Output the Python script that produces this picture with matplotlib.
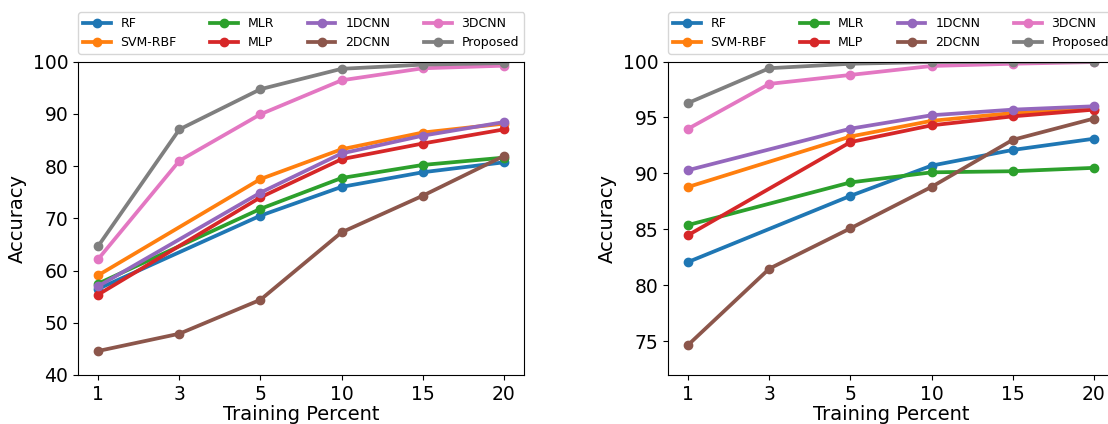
import matplotlib
matplotlib.use("Agg")
import matplotlib.pyplot as plt
import numpy as np

training_percent = ['1', '3', '5', '10', '15', '20']
methods = ['RF', 'SVM-RBF', 'MLR', 'MLP', '1DCNN', '2DCNN', '3DCNN', 'Proposed']

# None = no measurement at that training percent (line is drawn straight across)
left_rf       = [56.5, None, 70.5, 76.0, 78.8, 80.7]
left_svm      = [59.1, None, 77.5, 83.2, 86.4, 88.1]
left_mlr      = [57.5, None, 71.8, 77.7, 80.2, 81.6]
left_mlp      = [55.4, None, 74.0, 81.3, 84.3, 87.0]
left_1dcnn    = [57.0, None, 74.9, 82.4, 85.8, 88.4]
left_2dcnn    = [44.6, 47.9, 54.4, 67.3, 74.3, 81.9]
left_3dcnn    = [62.2, 81.0, 89.9, 96.4, 98.7, 99.2]
left_proposed = [64.7, 87.0, 94.7, 98.6, 99.4, 99.7]

right_rf       = [82.1, None, 88.0, 90.7, 92.1, 93.1]
right_svm      = [88.8, None, 93.3, 94.7, 95.4, 95.8]
right_mlr      = [85.4, None, 89.2, 90.1, 90.2, 90.5]
right_mlp      = [84.5, None, 92.8, 94.3, 95.1, 95.7]
right_1dcnn    = [90.3, None, 94.0, 95.2, 95.7, 96.0]
right_2dcnn    = [74.7, 81.5, 85.1, 88.8, 93.0, 94.9]
right_3dcnn    = [94.0, 98.0, 98.8, 99.6, 99.8, 99.95]
right_proposed = [96.3, 99.4, 99.8, 99.95, 99.97, 99.98]

left_series = [left_rf, left_svm, left_mlr, left_mlp, left_1dcnn, left_2dcnn, left_3dcnn, left_proposed]
right_series = [right_rf, right_svm, right_mlr, right_mlp, right_1dcnn, right_2dcnn, right_3dcnn, right_proposed]

W, H = 1108, 424
fig = plt.figure(figsize=(W / 100, H / 100), dpi=100)

def add_ax(x0, x1, y_top, y_bot):
    return fig.add_axes([x0 / W, 1 - y_bot / H, (x1 - x0) / W, (y_bot - y_top) / H])

ax1 = add_ax(78, 524, 61.5, 375)
ax2 = add_ax(668, 1114, 61.5, 375)

def draw(ax, series, ylim, yticks):
    for name, vals in zip(methods, series):
        xs = [i for i, v in enumerate(vals) if v is not None]
        ys = [v for v in vals if v is not None]
        ax.plot(xs, ys, marker='o', lw=2.7, ms=6, label=name)
    ax.set_xticks(range(len(training_percent)))
    ax.set_xticklabels(training_percent)
    ax.set_ylim(*ylim)
    ax.set_yticks(yticks)
    ax.tick_params(labelsize=13.5)
    ax.set_xlabel('Training Percent', fontsize=14, labelpad=1)
    ax.set_ylabel('Accuracy', fontsize=14)
    ax.legend(bbox_to_anchor=(0, 1.024, 1, 0.13), loc='lower left', ncol=4,
              mode='expand', fontsize=9, borderaxespad=0, handlelength=2.2,
              labelspacing=0.45)

draw(ax1, left_series, (40, 100), [40, 50, 60, 70, 80, 90, 100])
draw(ax2, right_series, (72, 100), [75, 80, 85, 90, 95, 100])

fig.savefig('out.png', dpi=100)
